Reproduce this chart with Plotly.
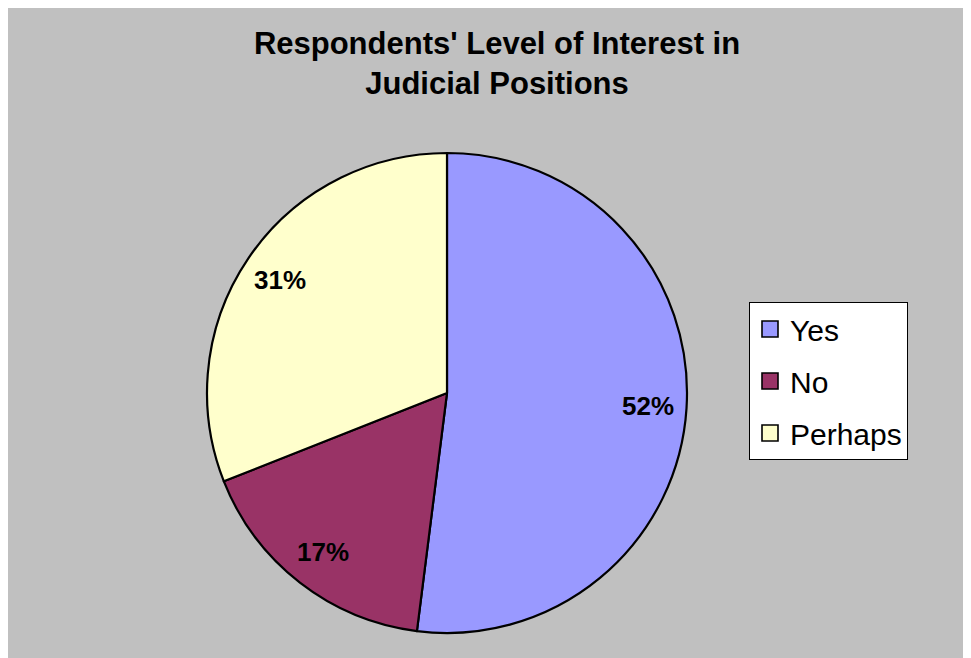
import math
import plotly.graph_objects as go

labels = ["Yes", "No", "Perhaps"]
values = [52, 17, 31]
colors = ["#9999FF", "#993366", "#FFFFCC"]
title_text = "Respondents' Level of Interest in<br>Judicial Positions"

W, H = 971, 658
FONT = "Arial, Liberation Sans, sans-serif"

# pie domain (px in figure coordinates)
px_left, px_right, px_top, px_bottom = 199, 679, 145, 625
dom_x = [px_left / W, px_right / W]
dom_y = [1 - px_bottom / H, 1 - px_top / H]
LABEL_R = 0.84  # label radius as fraction of pie radius

fig = go.Figure()

fig.add_trace(go.Pie(
    labels=labels,
    values=values,
    sort=False,
    direction="clockwise",
    rotation=0,
    marker=dict(colors=colors, line=dict(color="black", width=2.2)),
    textinfo="none",
    showlegend=False,
    domain=dict(x=dom_x, y=dom_y),
    hoverinfo="label+percent",
))

# percentage labels placed at the slice mid-angles
total = sum(values)
cx = (px_left + px_right) / 2
cy = (px_top + px_bottom) / 2
r = min(px_right - px_left, px_bottom - px_top) / 2
cum = 0
annotations = []
for v in values:
    mid = (cum + v / 2) / total * 2 * math.pi
    cum += v
    x = cx + LABEL_R * r * math.sin(mid)
    y = cy - LABEL_R * r * math.cos(mid)
    annotations.append(dict(
        x=x / W, y=1 - y / H, xref="paper", yref="paper",
        text="<b>%d%%</b>" % round(v / total * 100), showarrow=False,
        xanchor="center", yanchor="middle",
        font=dict(family=FONT, size=26, color="black"),
    ))

for lab, col in zip(labels, colors):
    fig.add_trace(go.Scatter(
        x=[None], y=[None], mode="markers", name=lab,
        legendgroup=lab,
        marker=dict(symbol="square", size=16, color=col,
                    line=dict(color="black", width=1.6)),
        showlegend=True,
    ))

fig.update_layout(
    width=W, height=H,
    margin=dict(l=0, r=0, t=0, b=0),
    paper_bgcolor="#C0C0C0",
    plot_bgcolor="rgba(0,0,0,0)",
    xaxis=dict(visible=False),
    yaxis=dict(visible=False),
    title=dict(
        text="<b>" + title_text + "</b>",
        x=489 / W, xanchor="center",
        y=1 - 46 / H, yanchor="top", yref="container",
        font=dict(family=FONT, size=31, color="black"),
    ),
    legend=dict(
        x=741 / W, xanchor="left",
        y=1 - 294 / H, yanchor="top",
        bgcolor="white", bordercolor="black", borderwidth=1,
        font=dict(family=FONT, size=30, color="black"),
        tracegroupgap=10,
        itemsizing="trace",
    ),
    annotations=annotations,
)

fig.write_html("out.html")
